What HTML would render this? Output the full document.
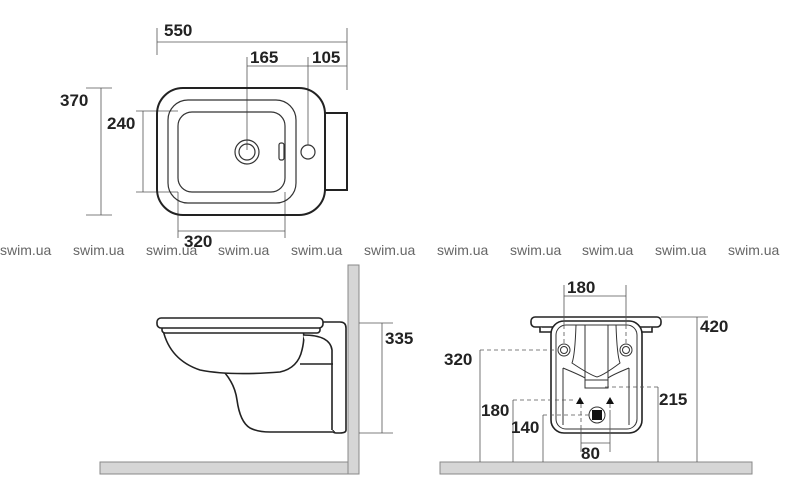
<!DOCTYPE html>
<html><head><meta charset="utf-8"><style>
html,body{margin:0;padding:0;background:#fff;}
svg{display:block}
text{font-family:"Liberation Sans",Arial,sans-serif;}
.d{font-weight:bold;font-size:17px;fill:#222}
.w{font-size:14px;fill:#666}
</style></head><body>
<svg width="800" height="503" viewBox="0 0 800 503" xmlns="http://www.w3.org/2000/svg">
<g fill="none" stroke="#555" stroke-width="0.8">
<path d="M157 28V55M347 28V90M157 42H347M247 57V150M308 57V145M247 66H347"/>
<path d="M86 88H112M86 215H112M101 88V215"/>
<path d="M136 111H178M136 192H178M143 111V192"/>
<path d="M178 192V238M285 192V238M178 231H285"/>
</g>
<g fill="none" stroke="#222" stroke-width="2">
<rect x="157" y="88" width="168" height="127" rx="26"/>
<path d="M325 113H347V190H325"/>
</g>
<g fill="none" stroke="#333" stroke-width="1.2">
<rect x="168" y="100" width="128" height="103" rx="20"/>
<rect x="178" y="112" width="107" height="80" rx="14"/>
<circle cx="247" cy="152" r="12"/><circle cx="247" cy="152" r="8"/>
<rect x="279" y="143" width="5" height="17" rx="2"/>
<circle cx="308" cy="152" r="7"/>
</g>
<text class="d" x="164" y="36">550</text>
<text class="d" x="250" y="63">165</text>
<text class="d" x="312" y="63">105</text>
<text class="d" x="60" y="106">370</text>
<text class="d" x="107" y="129">240</text>
<text class="d" x="184" y="247">320</text>
<g class="w">
<text x="0" y="255">swim.ua</text><text x="73" y="255">swim.ua</text><text x="146" y="255">swim.ua</text><text x="218" y="255">swim.ua</text><text x="291" y="255">swim.ua</text><text x="364" y="255">swim.ua</text><text x="437" y="255">swim.ua</text><text x="510" y="255">swim.ua</text><text x="582" y="255">swim.ua</text><text x="655" y="255">swim.ua</text><text x="728" y="255">swim.ua</text>
</g>
<!-- side view -->
<rect x="348" y="265" width="11" height="209" fill="#d6d6d6" stroke="#888"/>
<rect x="100" y="462" width="248" height="12" fill="#d6d6d6" stroke="#888"/>
<g fill="#fff" stroke="#222" stroke-width="1.6">
<path d="M318 322H340Q346 322 346 328V430Q346 433 340 433H336Q333 433 333 430"/>
<path d="M163 330Q170 360 200 370Q230 376 280 372Q298 368 302 350Q305 338 303 330"/>
<path d="M225 373Q235 385 237 400Q240 422 250 428Q258 432 270 432H335M300 364H333M303 335Q330 335 332 350V430"/>
<rect x="162" y="326" width="158" height="7" rx="3"/>
<rect x="157" y="318" width="166" height="10" rx="4"/>
</g>
<path d="M359 323H393M359 433H393M382 323V433" stroke="#555" stroke-width="0.8" fill="none"/>
<text class="d" x="385" y="344">335</text>
<!-- front view -->
<rect x="440" y="462" width="312" height="12" fill="#d6d6d6" stroke="#888"/>
<g fill="#fff" stroke="#222" stroke-width="1.6">
<rect x="531" y="317" width="130" height="10" rx="4"/>
<path d="M540 327V332H552M642 332H652V327"/>
<rect x="551" y="321" width="91" height="112" rx="13"/>
</g>
<g fill="none" stroke="#333" stroke-width="1">
<rect x="556" y="325" width="81" height="104" rx="10"/>
<circle cx="564" cy="350" r="6"/><circle cx="564" cy="350" r="3.5"/>
<circle cx="626" cy="350" r="6"/><circle cx="626" cy="350" r="3.5"/>
<path d="M585 325V388H608V325M585 380H608M576 325Q575 355 572 363Q590 375 597 377M616 325Q617 355 620 363Q604 375 597 377M563 368Q580 375 585 378M629 368Q612 375 608 378M563 368V425M629 368V425"/>
<circle cx="597" cy="415" r="8"/>
</g>
<rect x="592" y="410" width="10" height="10" fill="#111"/>
<path d="M576 404L580 397L584 404ZM606 404L610 397L614 404Z" fill="#111"/>
<g fill="none" stroke="#555" stroke-width="0.8">
<path d="M564 285V325M626 285V325M564 296H626"/>
<path d="M661 317H708M697 317V462M480 350V462M513 400V462M543 415V462M658 387V462"/>
<path d="M581 425V452M610 410V452M581 443H610"/>
</g>
<g fill="none" stroke="#555" stroke-width="0.8" stroke-dasharray="4,3">
<path d="M564 325V344M626 325V344M480 350H557M513 400H576M543 415H589M605 387H658M581 404V425M610 404V410"/>
</g>
<text class="d" x="567" y="293">180</text>
<text class="d" x="700" y="332">420</text>
<text class="d" x="444" y="365">320</text>
<text class="d" x="659" y="405">215</text>
<text class="d" x="481" y="416">180</text>
<text class="d" x="511" y="433">140</text>
<text class="d" x="581" y="459">80</text>
</svg>
</body></html>
